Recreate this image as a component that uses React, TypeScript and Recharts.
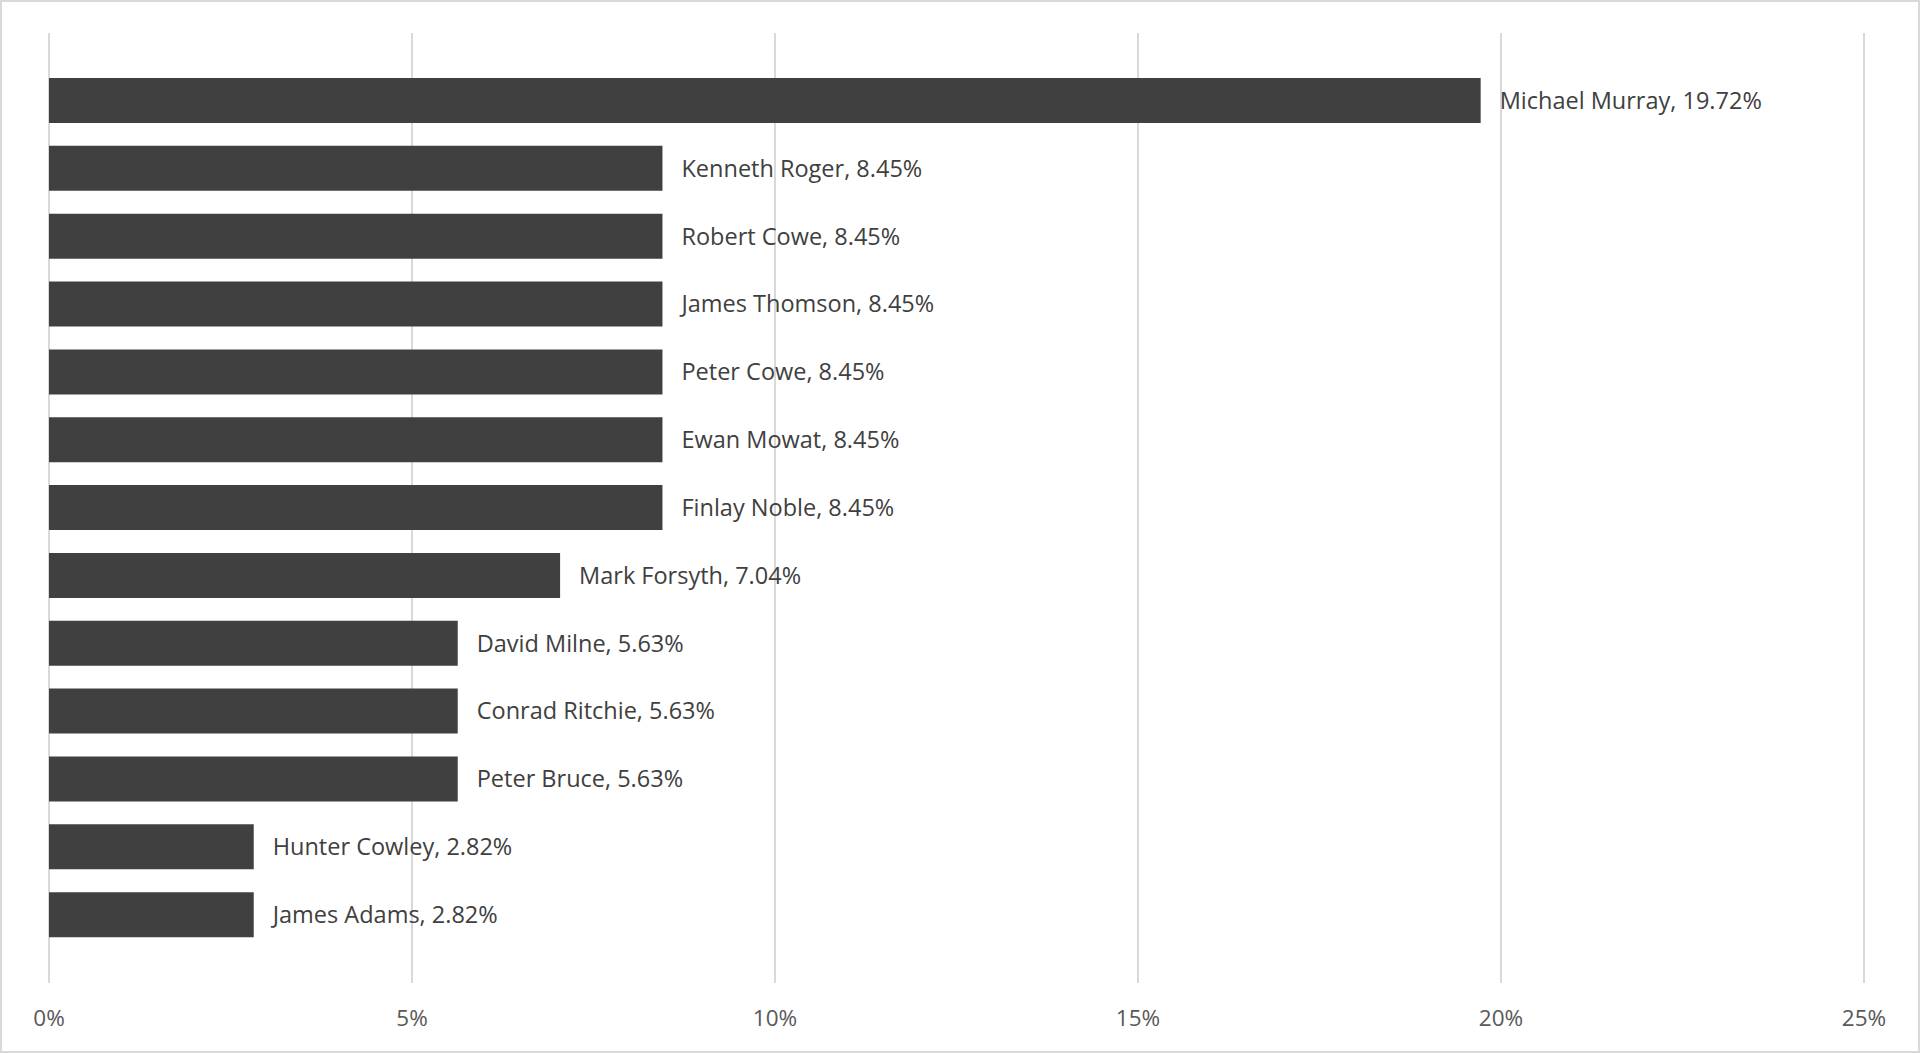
import React from "react";
import { BarChart, Bar, XAxis, YAxis, CartesianGrid, LabelList } from "recharts";

const names = [
  "Michael Murray",
  "Kenneth Roger",
  "Robert Cowe",
  "James Thomson",
  "Peter Cowe",
  "Ewan Mowat",
  "Finlay Noble",
  "Mark Forsyth",
  "David Milne",
  "Conrad Ritchie",
  "Peter Bruce",
  "Hunter Cowley",
  "James Adams",
];
const shares = [19.72, 8.45, 8.45, 8.45, 8.45, 8.45, 8.45, 7.04, 5.63, 5.63, 5.63, 2.82, 2.82];
const xTicks = [0, 5, 10, 15, 20, 25];

const data = names.map((n, i) => ({
  name: n,
  value: shares[i],
  label: `${n}, ${shares[i].toFixed(2)}%`,
}));

const FONT = "'Open Sans', 'Noto Sans', sans-serif";

export default function App() {
  return (
    <div
      style={{
        position: "absolute",
        left: 0,
        top: 0,
        width: 1920,
        height: 1053,
        background: "#ffffff",
        border: "2px solid #d9d9d9",
        boxSizing: "border-box",
        fontFamily: FONT,
      }}
    >
      <div style={{ position: "absolute", left: -2, top: -2 }}>
        <BarChart
          width={1920}
          height={1053}
          data={data}
          layout="vertical"
          margin={{ top: 33, right: 56, bottom: 40, left: 49 }}
        >
          <CartesianGrid horizontal={false} stroke="#d9d9d9" strokeWidth={2} />
          <XAxis
            type="number"
            domain={[0, 25]}
            ticks={xTicks}
            tickFormatter={(v) => `${v}%`}
            axisLine={false}
            tickLine={false}
            height={30}
            tickMargin={21}
            tick={{ fill: "#595959", fontSize: 22.5, fontFamily: FONT }}
            interval={0}
          />
          <YAxis
            type="category"
            dataKey="name"
            hide
            padding={{ top: 34, bottom: 34 }}
          />
          <Bar dataKey="value" fill="#404040" barSize={45} isAnimationActive={false}>
            <LabelList
              dataKey="label"
              position="right"
              offset={19}
              fill="#404040"
              fontSize={23.5}
              fontFamily={FONT}
            />
          </Bar>
        </BarChart>
      </div>
    </div>
  );
}
